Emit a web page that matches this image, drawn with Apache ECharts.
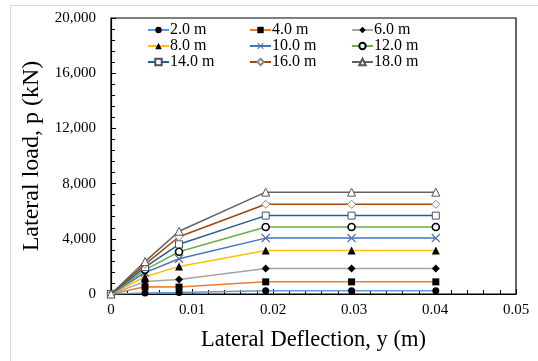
<!DOCTYPE html>
<html><head><meta charset="utf-8">
<script src="https://cdn.jsdelivr.net/npm/echarts@6/dist/echarts.min.js"></script>
<style>html,body{margin:0;padding:0;background:#fff}#c{width:538px;height:361px}</style>
</head><body><div id="c"></div>
<script>
const deflection = [0, 0.0042, 0.0084, 0.0191, 0.0297, 0.0401];
const seriesNames = ['2.0 m','4.0 m','6.0 m','8.0 m','10.0 m','12.0 m','14.0 m','16.0 m','18.0 m'];
const load2 = [0, 80, 100, 240, 240, 240];
const load4 = [0, 520, 500, 880, 880, 880];
const load6 = [0, 900, 1050, 1850, 1850, 1850];
const load8 = [0, 1250, 2000, 3150, 3150, 3150];
const load10 = [0, 1550, 2550, 4050, 4050, 4050];
const load12 = [0, 1750, 3060, 4850, 4850, 4850];
const load14 = [0, 1950, 3600, 5680, 5680, 5680];
const load16 = [0, 2150, 4150, 6500, 6500, 6500];
const load18 = [0, 2350, 4550, 7380, 7380, 7380];
const loads = [load2, load4, load6, load8, load10, load12, load14, load16, load18];
const yTicks = ['0','4,000','8,000','12,000','16,000','20,000'];

const lineColors = ['#5B9BD5','#ED7D31','#A5A5A5','#FFC000','#4472C4','#70AD47','#255E91','#9E480E','#636363'];
const X = 'path://M0,1L1,0L5,4L9,0L10,1L6,5L10,9L9,10L5,6L1,10L0,9L4,5Z';
const markers = [
  {symbol:'circle', size:7, fill:'#000', border:'#000', bw:0},
  {symbol:'rect', size:7, fill:'#000', border:'#000', bw:0},
  {symbol:'diamond', size:8, fill:'#000', border:'#000', bw:0},
  {symbol:'triangle', size:8, fill:'#000', border:'#000', bw:0},
  {symbol:X, size:9, fill:'#5a6f99', border:'#5a6f99', bw:0},
  {symbol:'circle', size:7, fill:'#fff', border:'#000', bw:1.6},
  {symbol:'rect', size:7, fill:'#fff', border:'#44546a', bw:1},
  {symbol:'diamond', size:8, fill:'#fff', border:'#888', bw:1},
  {symbol:'triangle', size:8, fill:'#fff', border:'#555', bw:1}
];

const series = loads.map((arr, i) => ({
  name: seriesNames[i],
  type: 'line',
  data: deflection.map((x, j) => [x, arr[j]]),
  symbol: markers[i].symbol,
  symbolSize: markers[i].size,
  showAllSymbol: true,
  lineStyle: {color: lineColors[i], width: 1.5},
  itemStyle: {color: markers[i].fill, borderColor: markers[i].border, borderWidth: markers[i].bw},
  emphasis: {disabled: true},
  animation: false,
  z: 2 + i
}));

const legendBase = {
  orient: 'vertical', top: 22, itemGap: 0, itemWidth: 21, itemHeight: 8,
  textStyle: {fontFamily: 'Liberation Serif', fontSize: 16, lineHeight: 16, color: '#000', padding: [0,0,0,-4]},
  padding: 0, selectedMode: false
};
const fmtY = v => yTicks[Math.round(v / 4000)];

const chart = echarts.init(document.getElementById('c'), null, {renderer: 'canvas'});
chart.setOption({
  backgroundColor: '#fff',
  animation: false,
  graphic: [
    {type:'line', shape:{x1:10.5,y1:5,x2:10.5,y2:361}, style:{stroke:'#d9d9d9', lineWidth:1}},
    {type:'line', shape:{x1:10,y1:5.5,x2:538,y2:5.5}, style:{stroke:'#d9d9d9', lineWidth:1}}
  ],
  legend: [
    Object.assign({}, legendBase, {left: 147, data: [seriesNames[0], seriesNames[3], seriesNames[6]]}),
    Object.assign({}, legendBase, {left: 249, data: [seriesNames[1], seriesNames[4], seriesNames[7]]}),
    Object.assign({}, legendBase, {left: 351, data: [seriesNames[2], seriesNames[5], seriesNames[8]]})
  ],
  grid: {left: 111, right: 22, top: 18, bottom: 67, show: true, borderColor: '#000', borderWidth: 1.2, backgroundColor: 'transparent'},
  xAxis: {
    type: 'value', min: 0, max: 0.05, interval: 0.01,
    name: 'Lateral Deflection, y (m)', nameLocation: 'middle', nameGap: 35,
    nameTextStyle: {fontFamily: 'Liberation Serif', fontSize: 22.5, color: '#000'},
    axisLine: {show: true, onZero: false, lineStyle: {color: '#000', width: 1.2}},
    axisTick: {show: true, inside: true, length: 5, lineStyle: {color: '#000'}},
    minorTick: {show: true, splitNumber: 5, length: 4, lineStyle: {color: '#000'}},
    splitLine: {show: false},
    axisLabel: {fontFamily: 'Liberation Serif', fontSize: 15, color: '#000', margin: 9,
      formatter: v => v === 0 ? '0' : v.toFixed(2)}
  },
  yAxis: {
    type: 'value', min: 0, max: 20000, interval: 4000,
    name: 'Lateral load, p (kN)', nameLocation: 'middle', nameGap: 61,
    nameTextStyle: {fontFamily: 'Liberation Serif', fontSize: 24, color: '#000'},
    axisLine: {show: true, lineStyle: {color: '#000', width: 1.2}},
    axisTick: {show: true, inside: true, length: 5, lineStyle: {color: '#000'}},
    minorTick: {show: true, splitNumber: 5, length: 4, lineStyle: {color: '#000'}},
    splitLine: {show: false},
    axisLabel: {fontFamily: 'Liberation Serif', fontSize: 15, color: '#000', margin: 15, formatter: fmtY}
  },
  series: series
});
</script></body></html>
